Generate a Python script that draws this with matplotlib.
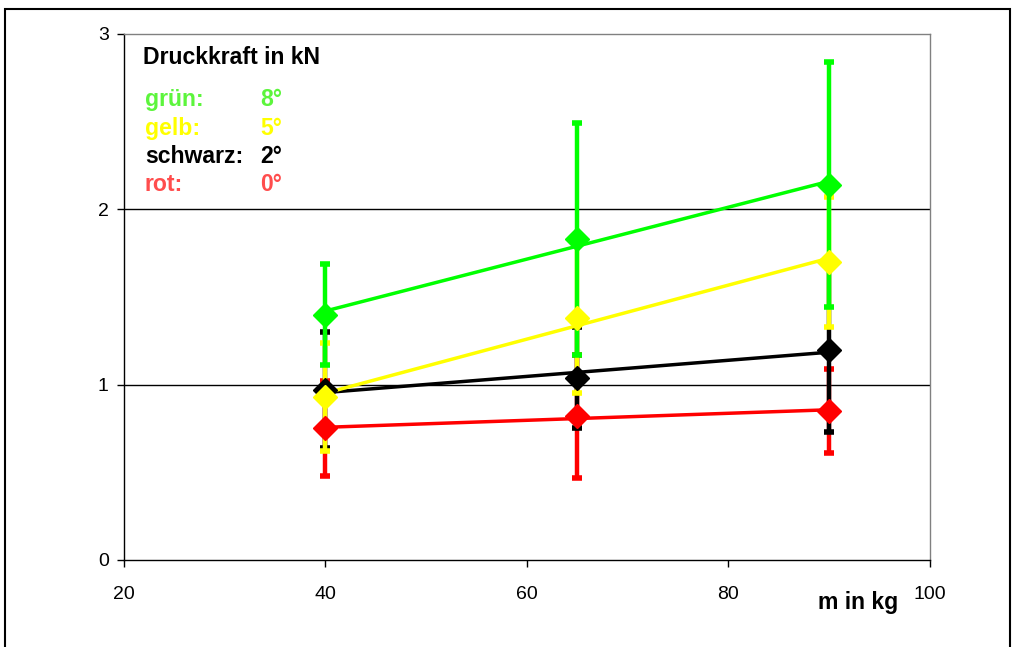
import numpy as np
import matplotlib
matplotlib.use("Agg")
import matplotlib.pyplot as plt
from matplotlib.patches import Rectangle

plt.rcParams['font.family'] = ['Liberation Sans', 'DejaVu Sans']

# data: Druckkraft (kN) over mass (kg) for different angles
masses = [40, 65, 90]
green_y = [1.40, 1.83, 2.14]
green_err = [0.29, 0.66, 0.70]
yellow_y = [0.93, 1.38, 1.70]
yellow_err = [0.31, 0.43, 0.37]
black_y = [0.97, 1.04, 1.20]
black_err = [0.33, 0.29, 0.47]
red_y = [0.75, 0.82, 0.85]
red_err = [0.27, 0.35, 0.24]

legend_names = ['grün:', 'gelb:', 'schwarz:', 'rot:']
legend_angles = ['8°', '5°', '2°', '0°']
legend_colors = ['#5cf53c', '#ffff00', '#000000', '#ff4d4d']

series = [
    (red_y, red_err, '#ff0000'),
    (black_y, black_err, '#000000'),
    (yellow_y, yellow_err, '#ffff00'),
    (green_y, green_err, '#00ff00'),
]

fig = plt.figure(figsize=(10.16, 6.47), dpi=100)
ax = fig.add_axes([0.122, 0.1345, 0.7933, 0.813])

# error bars first, then trend lines, then markers
for i, (y, err, col) in enumerate(series):
    ax.errorbar(masses, y, yerr=err, fmt='none', ecolor=col, elinewidth=3.2,
                capsize=3.8, capthick=4, zorder=3 + i * 0.1)
for i, (y, err, col) in enumerate(series):
    k, d = np.polyfit(masses, y, 1)
    xs = np.array([masses[0], masses[-1]])
    ax.plot(xs, k * xs + d, color=col, lw=2.5, zorder=4 + i * 0.1)
for i, (y, err, col) in enumerate(series):
    ax.plot(masses, y, linestyle='none', marker='D', markersize=12.5,
            color=col, markeredgecolor=col, zorder=5 + i * 0.1)

ax.set_xlim(20, 100)
ax.set_ylim(0, 3)
ax.set_xticks([20, 40, 60, 80, 100])
ax.set_yticks([0, 1, 2, 3])
ax.tick_params(labelsize=14, direction='out', length=5, width=1)
ax.tick_params(axis='x', pad=14)
ax.tick_params(axis='y', pad=6)
ax.axhline(1, color='black', lw=1, zorder=1)
ax.axhline(2, color='black', lw=1, zorder=1)

ax.spines['top'].set_color('#808080')
ax.spines['right'].set_color('#808080')
for s in ax.spines.values():
    s.set_linewidth(1)

ax.text(0.0236, 0.956, 'Druckkraft in kN', transform=ax.transAxes,
        fontsize=16.6, fontweight='bold', va='center', ha='left')
for j in range(len(legend_names)):
    yy = 0.875 - j * 0.054
    ax.text(0.026, yy, legend_names[j], transform=ax.transAxes, fontsize=16.6,
            fontweight='bold', color=legend_colors[j], va='center')
    ax.text(0.169, yy, legend_angles[j], transform=ax.transAxes, fontsize=16.6,
            fontweight='bold', color=legend_colors[j], va='center')

fig.text(818 / 1016, 1 - 603 / 647, 'm in kg', fontsize=16.6, fontweight='bold',
         va='center', ha='left')

# outer chart frame
fig.patches.append(Rectangle((5 / 1016, -0.05), 1005 / 1016, 1.05 - 9 / 647,
                             transform=fig.transFigure, fill=False,
                             edgecolor='black', lw=1.5))

fig.savefig('out.png', dpi=100)
